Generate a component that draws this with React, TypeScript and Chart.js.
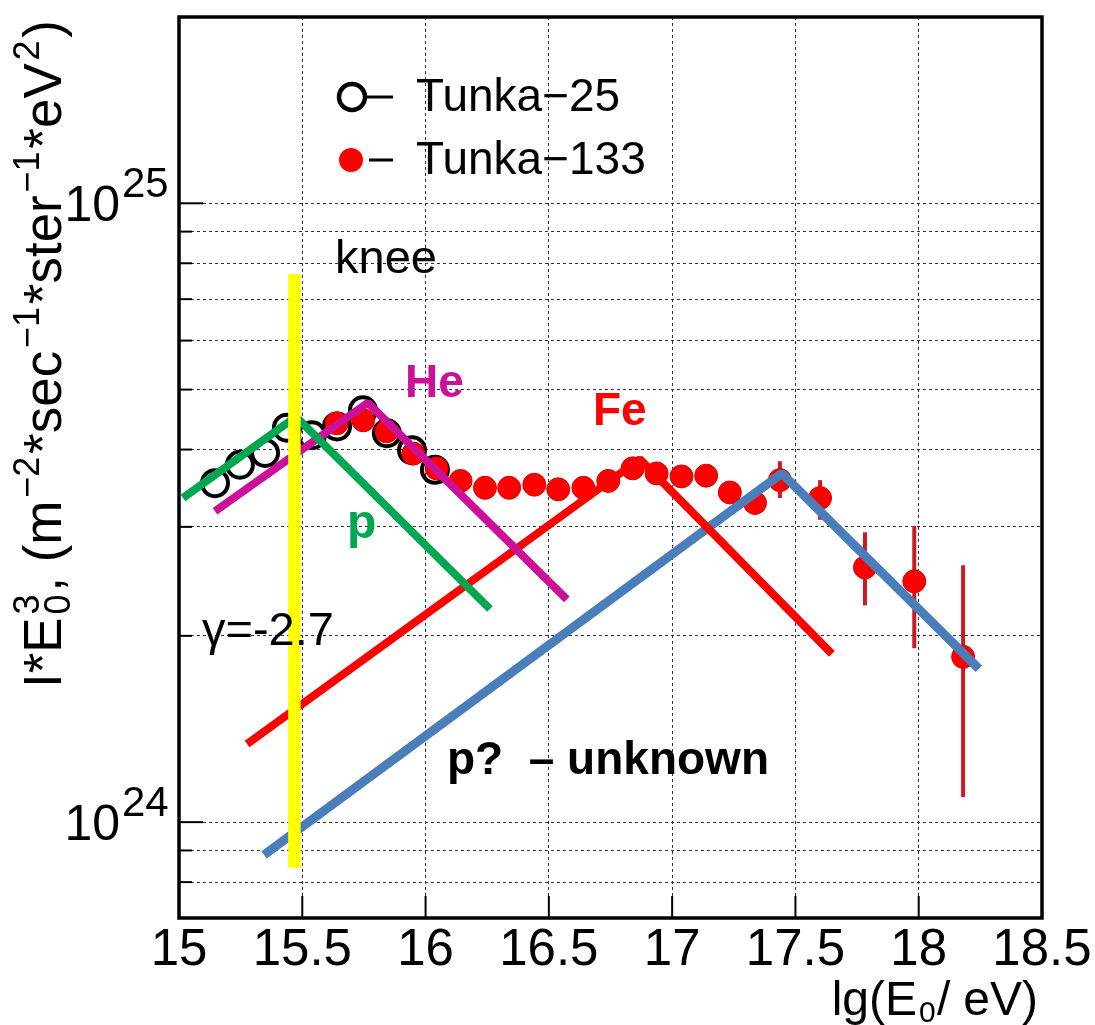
import React, { useEffect, useRef } from 'react';
import { Chart, registerables } from 'chart.js';

Chart.register(...registerables);

// ---------- data ----------
const xTickValues = [15, 15.5, 16, 16.5, 17, 17.5, 18, 18.5];
const xTickLabels = ['15', '15.5', '16', '16.5', '17', '17.5', '18', '18.5'];
const yGridValues = [8e23, 9e23, 1e24, 2e24, 3e24, 4e24, 5e24, 6e24, 7e24, 8e24, 9e24, 1e25];
const yLabelValues = [1e24, 1e25];
const yLabelExponents = ['24', '25'];

const tunka25X = [15.146, 15.247, 15.349, 15.438, 15.539, 15.641, 15.746, 15.843, 15.945, 16.038];
const tunka25Y = [3.53e24, 3.78e24, 3.95e24, 4.34e24, 4.22e24, 4.36e24, 4.63e24, 4.25e24, 3.99e24, 3.71e24];

const tunka133X = [15.64, 15.747, 15.842, 15.95, 16.045, 16.142, 16.241, 16.339, 16.441, 16.538, 16.64, 16.741, 16.84, 16.937, 17.038, 17.138, 17.234, 17.336, 17.437, 17.6, 17.782, 17.982, 18.18];
const tunka133Y = [4.41e24, 4.46e24, 4.28e24, 3.94e24, 3.73e24, 3.56e24, 3.47e24, 3.47e24, 3.51e24, 3.45e24, 3.47e24, 3.56e24, 3.73e24, 3.66e24, 3.62e24, 3.63e24, 3.41e24, 3.28e24, 3.57e24, 3.34e24, 2.58e24, 2.45e24, 1.85e24];
const tunka133Lo = [null, null, null, null, null, null, null, null, null, null, null, null, null, null, null, null, null, 3.14e24, 3.34e24, 3.08e24, 2.24e24, 1.91e24, 1.098e24];
const tunka133Hi = [null, null, null, null, null, null, null, null, null, null, null, null, null, null, null, null, null, 3.44e24, 3.83e24, 3.57e24, 2.94e24, 3.01e24, 2.6e24];

const pLineX = [15.016, 15.474, 16.261];
const pLineY = [3.34e24, 4.52e24, 2.21e24];
const heLineX = [15.146, 15.766, 16.573];
const heLineY = [3.18e24, 4.76e24, 2.29e24];
const feLineX = [15.276, 16.869, 17.648];
const feLineY = [1.337e24, 3.86e24, 1.87e24];
const unknownLineX = [15.345, 17.445, 18.244];
const unknownLineY = [8.85e23, 3.66e24, 1.77e24];
const kneeLineX = [15.468, 15.468];
const kneeLineY = [8.44e23, 7.69e24];

// ---------- helpers ----------
const FONT = '"Liberation Sans", Arial, sans-serif';
const pts = (xs: number[], ys: (number | null)[]) => xs.map((x, i) => ({ x, y: ys[i] as number }));

function text(ctx: CanvasRenderingContext2D, s: string, x: number, y: number, font: string, color: string, align: CanvasTextAlign = 'left') {
  ctx.save();
  ctx.font = font;
  ctx.fillStyle = color;
  ctx.textAlign = align;
  ctx.textBaseline = 'alphabetic';
  ctx.fillText(s, x, y);
  ctx.restore();
}

const overlayPlugin = {
  id: 'overlay',
  beforeDatasetDraw(chart: any, args: any) {
    if (args.meta.label !== 'Tunka-133') return;
    const ctx = chart.ctx;
    const xs = chart.scales.x;
    const ys = chart.scales.y;
    ctx.save();
    ctx.strokeStyle = '#cc1a22';
    ctx.lineWidth = 4;
    tunka133X.forEach((x, i) => {
      const lo = tunka133Lo[i];
      const hi = tunka133Hi[i];
      if (lo == null || hi == null) return;
      const px = xs.getPixelForValue(x);
      ctx.beginPath();
      ctx.moveTo(px, ys.getPixelForValue(lo));
      ctx.lineTo(px, ys.getPixelForValue(hi));
      ctx.stroke();
    });
    ctx.restore();
  },
  afterDraw(chart: any) {
    const ctx: CanvasRenderingContext2D = chart.ctx;
    const a = chart.chartArea;
    const xs = chart.scales.x;
    const ys = chart.scales.y;

    // inner tick marks
    ctx.save();
    ctx.strokeStyle = '#000';
    ctx.lineWidth = 2;
    xTickValues.forEach((v) => {
      const px = xs.getPixelForValue(v);
      ctx.beginPath();
      ctx.moveTo(px, a.bottom);
      ctx.lineTo(px, a.bottom - 22);
      ctx.stroke();
    });
    yGridValues.forEach((v) => {
      const py = ys.getPixelForValue(v);
      const major = yLabelValues.includes(v);
      ctx.beginPath();
      ctx.moveTo(a.left, py);
      ctx.lineTo(a.left + (major ? 24 : 13), py);
      ctx.stroke();
    });
    ctx.restore();

    // frame
    ctx.save();
    ctx.strokeStyle = '#000';
    ctx.lineWidth = 3.5;
    ctx.strokeRect(a.left, a.top, a.right - a.left, a.bottom - a.top);
    ctx.restore();

    // x tick labels
    xTickValues.forEach((v, i) => {
      text(ctx, xTickLabels[i], xs.getPixelForValue(v), 965, `51px ${FONT}`, '#000', 'center');
    });
    // y tick labels (10^n)
    yLabelValues.forEach((v, i) => {
      const py = ys.getPixelForValue(v);
      text(ctx, '10', 120, py + 18, `50px ${FONT}`, '#000', 'right');
      text(ctx, yLabelExponents[i], 122, py - 6, `42px ${FONT}`, '#000', 'left');
    });

    // x title: lg(E0/eV)
    const big = `48px ${FONT}`;
    const small = `30px ${FONT}`;
    text(ctx, 'lg(E', 917, 1015, big, '#000', 'right');
    text(ctx, '0', 919, 1022, small, '#000');
    text(ctx, '/', 937, 1015, big, '#000');
    text(ctx, 'eV)', 1038, 1015, big, '#000', 'right');

    // y title (rotated)
    ctx.save();
    ctx.translate(61, 688);
    ctx.rotate(-Math.PI / 2);
    const yBig = `53px ${FONT}`;
    const ySmall = `36px ${FONT}`;
    type Piece = { s: string; f: string; dy: number; stack?: boolean };
    const pieces: Piece[] = [
      { s: 'I*E', f: yBig, dy: 0 },
      { s: '0', f: ySmall, dy: 9, stack: true },
      { s: '3', f: ySmall, dy: -22 },
      { s: ', (m', f: yBig, dy: 0 },
      { s: '\u22122', f: ySmall, dy: -22 },
      { s: '*sec', f: yBig, dy: 0 },
      { s: '\u22121', f: ySmall, dy: -22 },
      { s: '*ster', f: yBig, dy: 0 },
      { s: '\u22121', f: ySmall, dy: -22 },
      { s: '*eV', f: yBig, dy: 0 },
      { s: '2', f: ySmall, dy: -22 },
      { s: ')', f: yBig, dy: 0 },
    ];
    let total = 0;
    const widths = pieces.map((p) => {
      ctx.font = p.f;
      const w = ctx.measureText(p.s).width;
      if (!p.stack) total += w;
      return w;
    });
    const gaps = pieces.filter((p) => !p.stack).length - 1;
    const gap = Math.max(0, (668 - total) / gaps);
    let cx = 0;
    ctx.fillStyle = '#000';
    ctx.textBaseline = 'alphabetic';
    ctx.textAlign = 'left';
    pieces.forEach((p, i) => {
      ctx.font = p.f;
      ctx.fillText(p.s, cx, p.dy);
      if (!p.stack) cx += widths[i] + gap;
    });
    ctx.restore();

    // legend
    ctx.save();
    ctx.strokeStyle = '#000';
    ctx.lineWidth = 4.5;
    ctx.beginPath();
    ctx.arc(352, 97, 13, 0, Math.PI * 2);
    ctx.stroke();
    ctx.lineWidth = 3;
    ctx.beginPath();
    ctx.moveTo(366, 97);
    ctx.lineTo(393, 97);
    ctx.stroke();
    ctx.fillStyle = '#ff0000';
    ctx.beginPath();
    ctx.arc(351, 160, 12, 0, Math.PI * 2);
    ctx.fill();
    ctx.beginPath();
    ctx.moveTo(369, 160);
    ctx.lineTo(393, 160);
    ctx.stroke();
    ctx.restore();
    text(ctx, 'Tunka\u221225', 416, 111, `46px ${FONT}`, '#000');
    text(ctx, 'Tunka\u2212133', 416, 174, `46px ${FONT}`, '#000');

    // annotations
    text(ctx, 'knee', 335, 273, `47px ${FONT}`, '#000');
    text(ctx, 'He', 405, 397, `bold 46px ${FONT}`, '#cc1199');
    text(ctx, 'Fe', 593, 425, `bold 46px ${FONT}`, '#ff0000');
    text(ctx, 'p', 347, 538, `bold 48px ${FONT}`, '#00a651');
    text(ctx, '\u03b3=-2.7', 202, 645, `47px ${FONT}`, '#000');
    text(ctx, 'p?  \u2013 unknown', 447, 774, `bold 46px ${FONT}`, '#000');
  },
};

export default function App() {
  const ref = useRef<HTMLCanvasElement | null>(null);
  useEffect(() => {
    if (!ref.current) return;
    const lineDs = (label: string, xs: number[], ys: number[], color: string, width: number, order: number) => ({
      label,
      data: pts(xs, ys),
      showLine: true,
      borderColor: color,
      backgroundColor: color,
      borderWidth: width,
      borderCapStyle: 'butt' as const,
      borderJoinStyle: 'bevel' as const,
      pointRadius: 0,
      tension: 0,
      order,
    });
    const chart = new Chart(ref.current, {
      type: 'scatter',
      data: {
        datasets: [
          lineDs('knee', kneeLineX, kneeLineY, '#ffff00', 12.5, 0),
          lineDs('p', pLineX, pLineY, '#00a651', 8, 1),
          lineDs('He', heLineX, heLineY, '#cc1199', 8, 2),
          lineDs('Fe', feLineX, feLineY, '#ff0000', 8, 3),
          lineDs('unknown', unknownLineX, unknownLineY, '#4a7ebb', 9, 4),
          {
            label: 'Tunka-133',
            data: pts(tunka133X, tunka133Y),
            showLine: false,
            pointStyle: 'circle',
            pointRadius: 11.5,
            pointBackgroundColor: '#ff0000',
            pointBorderColor: '#e00000',
            pointBorderWidth: 1,
            order: 5,
          },
          {
            label: 'Tunka-25',
            data: pts(tunka25X, tunka25Y),
            showLine: false,
            pointStyle: 'circle',
            pointRadius: 13,
            pointBackgroundColor: 'rgba(0,0,0,0)',
            pointBorderColor: '#000',
            pointBorderWidth: 4,
            order: 6,
          },
        ],
      },
      options: {
        animation: false,
        responsive: false,
        maintainAspectRatio: false,
        devicePixelRatio: 1,
        events: [],
        layout: { padding: { left: 0, top: 12, right: 53, bottom: 0 } },
        plugins: { legend: { display: false }, tooltip: { enabled: false }, title: { display: false } },
        scales: {
          x: {
            type: 'linear',
            min: 15,
            max: 18.5,
            bounds: 'data',
            ticks: { display: false, stepSize: 0.5 },
            grid: { color: '#333', lineWidth: 1, drawTicks: false },
            border: { display: false, dash: [3, 3] },
            afterBuildTicks: (s: any) => {
              s.ticks = xTickValues.slice(1, -1).map((v) => ({ value: v }));
            },
            afterFit: (s: any) => {
              s.height = 107;
            },
          },
          y: {
            type: 'logarithmic',
            min: 7e23,
            max: 2e25,
            bounds: 'data',
            ticks: { display: false },
            grid: { color: '#333', lineWidth: 1, drawTicks: false },
            border: { display: false, dash: [3, 3] },
            afterBuildTicks: (s: any) => {
              s.ticks = yGridValues.map((v) => ({ value: v }));
            },
            afterFit: (s: any) => {
              s.width = 179;
            },
          },
        },
      },
      plugins: [overlayPlugin],
    } as any);
    return () => chart.destroy();
  }, []);
  return (
    <div style={{ position: 'fixed', left: 0, top: 0, width: 1095, height: 1025, background: '#fff' }}>
      <canvas ref={ref} width={1095} height={1025} style={{ display: 'block' }} />
    </div>
  );
}
